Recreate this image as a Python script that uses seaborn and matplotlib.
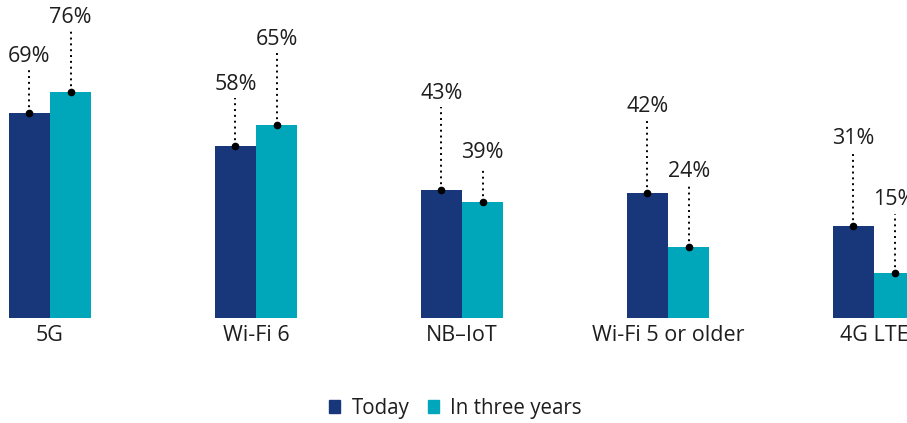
import matplotlib
matplotlib.use("Agg")
import matplotlib.pyplot as plt
import pandas as pd
import seaborn as sns

# chart data
categories = ["5G", "Wi-Fi 6", "NB\u2013IoT", "Wi-Fi 5 or older", "4G LTE"]
today = [69, 58, 43, 42, 31]
in_three_years = [76, 65, 39, 24, 15]
series_names = ["Today", "In three years"]

# label heights above each bar (data units), same order as the values
today_label_offset = [19, 20.5, 32.5, 29, 29.5]
future_label_offset = [25.2, 28.8, 16.5, 25.2, 24.7]

COLORS = ["#17377a", "#00a6b9"]
FONT = ["Open Sans", "DejaVu Sans"]

df = pd.DataFrame({
    "category": categories * 2,
    "series": [series_names[0]] * len(categories) + [series_names[1]] * len(categories),
    "value": today + in_three_years,
})

sns.set_theme(style="white")
plt.rcParams["font.family"] = FONT

fig = plt.figure(figsize=(9.07, 4.23), dpi=100)
ax = fig.add_axes([0, 0, 1, 1])

sns.barplot(data=df, x="category", y="value", hue="series", order=categories,
            hue_order=series_names, palette=COLORS, width=0.4, saturation=1,
            linewidth=0, ax=ax, legend=False)

ax.set_xlim(-0.243, 4.16)
ax.set_ylim(-35.4, 107.0)
ax.axis("off")

# dotted leader lines + value labels
offsets = [today_label_offset, future_label_offset]
for container, offs in zip(ax.containers, offsets):
    for bar, off in zip(container.patches, offs):
        cx = bar.get_x() + bar.get_width() / 2
        top = bar.get_height()
        label_y = top + off
        ax.plot([cx, cx], [top, label_y - 4.6], color="black", lw=1.4,
                linestyle=(0, (1, 2)), zorder=3)
        ax.plot(cx, top, "o", color="black", ms=4.5, zorder=4)
        ax.text(cx, label_y, f"{top:.0f}%", ha="center", va="center",
                fontsize=15.5, color="#1e1e1e")

# category labels under each group
for i, cat in enumerate(categories):
    ax.text(i, -5.8, cat, ha="center", va="center", fontsize=15.5, color="#1e1e1e")

# legend
handles = [plt.Rectangle((0, 0), 1, 1, color=c) for c in COLORS]
fig.legend(handles, series_names, loc="center", bbox_to_anchor=(0.502, 0.035),
           ncol=2, frameon=False, fontsize=14.8, handlelength=0.55, handleheight=0.55,
           handletextpad=0.55, columnspacing=0.9, labelcolor="#1e1e1e")

fig.savefig("out.png", dpi=100)
